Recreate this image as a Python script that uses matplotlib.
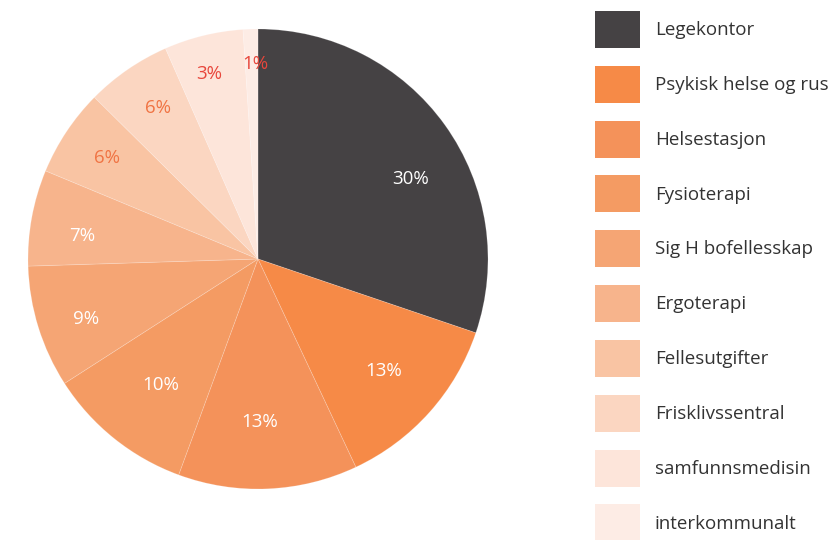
import numpy as np
import matplotlib.pyplot as plt
from matplotlib.patches import Patch

plt.rcParams['font.family'] = ['Open Sans', 'DejaVu Sans']

# Data
categories = ["Legekontor", "Psykisk helse og rus", "Helsestasjon", "Fysioterapi",
              "Sig H bofellesskap", "Ergoterapi", "Fellesutgifter", "Frisklivssentral",
              "samfunnsmedisin", "interkommunalt"]
shares = [30.2, 12.8, 12.6, 10.3, 8.6, 6.75, 6.15, 6.0, 5.55, 1.04]
pct_labels = ["30%", "13%", "13%", "10%", "9%", "7%", "6%", "6%", "3%", "1%"]
colors = ["#454244", "#f68a47", "#f4925a", "#f49b63", "#f5a574",
          "#f7b48c", "#f9c4a3", "#fbd6c1", "#fde5da", "#fdece5"]
label_colors = ["white"] * 6 + ["#f07444"] * 2 + ["#e8473c"] * 2

fig = plt.figure(figsize=(8.33, 5.4), dpi=100)
ax = fig.add_axes([28 / 833, 51 / 540, 460 / 833, 460 / 540])

wedges, texts = ax.pie(shares, colors=colors, startangle=90, counterclock=False,
                       wedgeprops=dict(edgecolor=(1, 1, 1, 0.2), linewidth=0.6))
ax.set_xlim(-1, 1)
ax.set_ylim(-1, 1)
ax.set_aspect('equal')

# percent labels: distance from centre (fraction of radius) and angle nudge per slice
label_r = [0.75, 0.73, 0.71, 0.69, 0.79, 0.77, 0.79, 0.79, 0.83, 0.85]
label_da = [-8, 0, -2, 1, 2, 3, 0, -1, 1, -1]
for w, lab, c, r, da in zip(wedges, pct_labels, label_colors, label_r, label_da):
    mid = np.deg2rad((w.theta1 + w.theta2) / 2 + da)
    ax.text(r * np.cos(mid), r * np.sin(mid), lab, ha='center', va='center',
            fontsize=13.5, color=c)

handles = [Patch(facecolor=c, edgecolor='none') for c in colors]
fig.legend(handles, categories, loc='upper left', bbox_to_anchor=(595 / 833, 1 - 11 / 540),
           frameon=False, fontsize=13.5, handlelength=2.4, handleheight=2.66,
           labelspacing=0.95, handletextpad=0.8, borderpad=0, borderaxespad=0,
           labelcolor='#333333')

fig.savefig("out.png", dpi=100)
